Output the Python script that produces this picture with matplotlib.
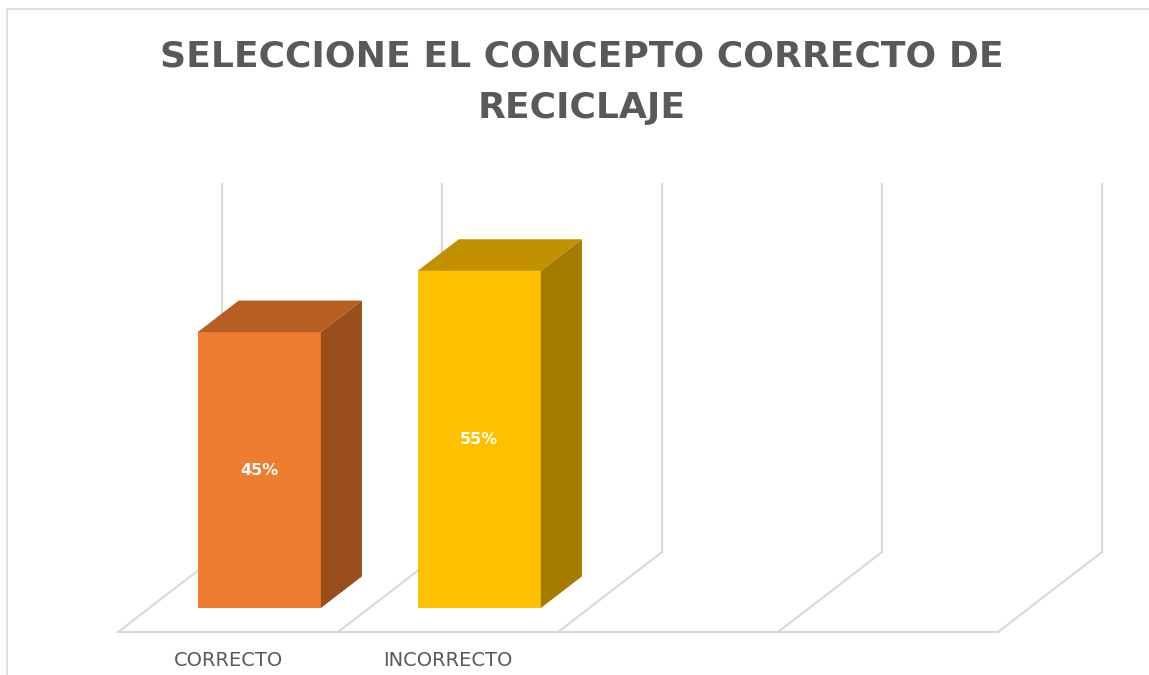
import numpy as np
import matplotlib.pyplot as plt
from matplotlib.patches import Polygon, Rectangle

# chart data
categories = ['CORRECTO', 'INCORRECTO', '', '']
values = [45, 55, np.nan, np.nan]
labels = ['45%', '55%', '', '']
front_colors = ['#ED7D31', '#FFC000']
top_colors = ['#B75E23', '#C29100']
side_colors = ['#9A4E1C', '#A67C00']
title = 'SELECCIONE EL CONCEPTO CORRECTO DE\nRECICLAJE'

y_max = 60
# fake 3d: full floor depth in data units, bars sit between two depth fractions
depth_dx, depth_dy = 0.473, 13.05
bar_front, bar_back = 0.30, 0.695
bar_width = 0.56
grid_color = '#D9D9D9'
text_color = '#595959'

fig = plt.figure(figsize=(11.49, 6.75), dpi=100)
ax = fig.add_axes([0, 0, 1, 1])
ax.set_xlim(-1.0364, 4.1864)
ax.set_ylim(-7.01, 103.1)
ax.axis('off')

n = len(categories)
# floor: front edge, diagonal slot dividers, back-wall vertical gridlines
ax.plot([-0.5, n - 0.5], [0, 0], color=grid_color, lw=1.5, zorder=1)
for k in range(n + 1):
    x0 = k - 0.5
    ax.plot([x0, x0 + depth_dx], [0, depth_dy], color=grid_color, lw=1.5, zorder=1)
    ax.plot([x0 + depth_dx, x0 + depth_dx], [depth_dy, depth_dy + y_max],
            color=grid_color, lw=1.5, zorder=1)

# bars: front face via ax.bar, top and side as polygons
fx, fy = bar_front * depth_dx, bar_front * depth_dy
bx, by = (bar_back - bar_front) * depth_dx, (bar_back - bar_front) * depth_dy
for i, v in enumerate(values):
    if np.isnan(v):
        continue
    xc = i + fx
    left, right = xc - bar_width / 2, xc + bar_width / 2
    top = fy + v
    ax.bar(xc, v, width=bar_width, bottom=fy, color=front_colors[i], zorder=3)
    ax.add_patch(Polygon([(left, top), (right, top), (right + bx, top + by),
                          (left + bx, top + by)], closed=True,
                         facecolor=top_colors[i], edgecolor='none', zorder=3))
    ax.add_patch(Polygon([(right, fy), (right + bx, fy + by), (right + bx, top + by),
                          (right, top)], closed=True,
                         facecolor=side_colors[i], edgecolor='none', zorder=3))
    ax.text(xc, fy + v / 2, labels[i], color='white', fontsize=11.5,
            fontweight='bold', family='DejaVu Sans', ha='center', va='center', zorder=4)

for i, c in enumerate(categories):
    ax.text(i, -4.6, c, color=text_color, fontsize=14, family='DejaVu Sans',
            ha='center', va='center')

fig.text(0.5065, 0.878, title, color=text_color, fontsize=26, fontweight='bold',
         family='DejaVu Sans', ha='center', va='center', linespacing=1.62)

# chart area border
fig.patches.append(Rectangle((7 / 1149, -0.1), 1.2, (675 - 9) / 675 + 0.1,
                             transform=fig.transFigure, fill=False,
                             edgecolor='#D9D9D9', lw=1.2))

fig.savefig('out.png', dpi=100, facecolor='white')
